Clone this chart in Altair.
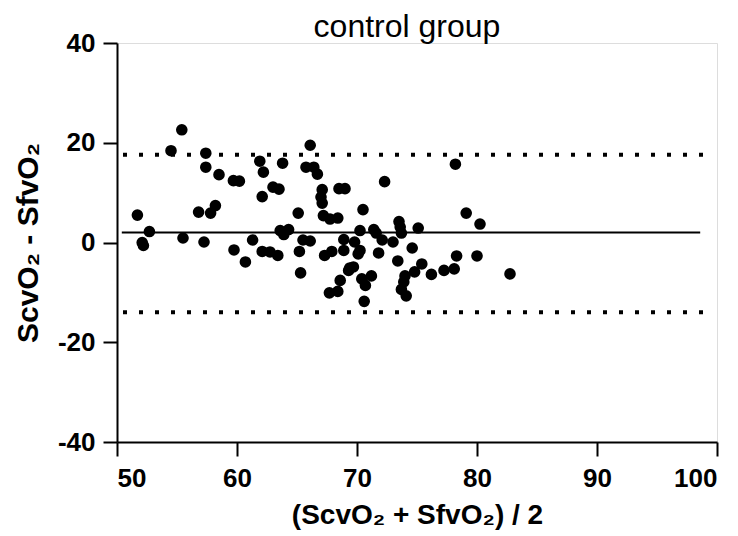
import altair as alt
import pandas as pd

# Bland-Altman data: mean of the two measurements (x) and their difference (y)
mean_vals = [55.4, 54.5, 57.4, 57.4, 58.5, 59.7, 60.2, 51.7, 56.8, 57.8,
             58.2, 52.7, 52.1, 52.2, 55.5, 57.25, 59.75, 66.1, 61.9, 62.2,
             63.8, 65.75, 66.4, 66.7, 63.0, 63.5, 62.1, 67.1, 67.0, 67.1,
             68.5, 69.0, 65.1, 67.2, 67.75, 68.4, 63.6, 63.9, 64.3, 61.3,
             65.5, 66.1, 60.7, 62.1, 62.75, 63.4, 65.2, 67.3, 67.9, 65.3,
             67.7, 68.4, 68.6, 72.3, 70.5, 70.25, 71.4, 71.6, 73.5, 73.6,
             73.7, 75.1, 68.9, 69.8, 72.1, 73.0, 68.9, 70.25, 70.1, 71.8,
             74.6, 73.4, 69.4, 69.7, 69.3, 70.4, 70.7, 71.2, 70.6, 74.0,
             73.9, 73.7, 74.1, 74.8, 75.4, 76.2, 77.25, 78.1, 78.2, 79.1,
             80.25, 78.3, 80.0, 82.75]
diff_vals = [22.6, 18.4, 17.9, 15.1, 13.6, 12.4, 12.3, 5.5, 6.1, 5.9,
             7.4, 2.2, 0.0, -0.6, 0.9, 0.1, -1.5, 19.5, 16.3, 14.1,
             15.9, 15.1, 15.1, 13.7, 11.1, 10.7, 9.2, 10.6, 9.1, 7.9,
             10.8, 10.8, 5.9, 5.4, 4.7, 4.9, 2.4, 1.6, 2.6, 0.5,
             0.5, 0.3, -3.9, -1.8, -1.9, -2.6, -1.8, -2.6, -1.8, -6.1,
             -10.1, -9.8, -7.6, 12.2, 6.6, 2.4, 2.6, 1.9, 4.2, 3.1,
             1.9, 2.9, 0.6, 0.1, 0.5, 0.1, -1.6, -1.6, -2.3, -2.1,
             -1.1, -3.7, -5.1, -4.9, -5.6, -7.3, -8.6, -6.7, -11.8, -6.7,
             -7.9, -9.4, -10.7, -5.9, -4.3, -6.4, -5.6, -5.3, 15.7, 5.9,
             3.7, -2.7, -2.7, -6.3]

# bias and limits of agreement
line_names = ["bias", "upper", "lower"]
line_levels = [2.0, 17.6, -14.0]
line_start = [50.4, 50.5, 50.5]
line_end = [98.6, 99.2, 99.2]

x_ticks = [50, 60, 70, 80, 90, 100]
y_ticks = [-40, -20, 0, 20, 40]

points = pd.DataFrame({"m": mean_vals, "d": diff_vals})
lines = pd.DataFrame({"name": line_names, "y": line_levels,
                      "x1": line_start, "x2": line_end})

FONT = "Liberation Sans"

x_scale = alt.Scale(domain=[50, 100], nice=False, zero=False)
y_scale = alt.Scale(domain=[-40, 40], nice=False, zero=False)

axis_common = dict(
    grid=False, domainColor="black", domainWidth=2, tickColor="black",
    tickWidth=2, tickSize=14, labelFont=FONT, labelFontSize=26,
    labelFontWeight="bold", labelColor="black", titleFont=FONT,
    titleFontSize=28, titleFontWeight="bold", titleColor="black",
    labelExpr="'' + datum.value",
)

x_enc = alt.X("m:Q", scale=x_scale,
              axis=alt.Axis(title="(ScvO₂ + SfvO₂) / 2", values=x_ticks,
                            labelPadding=9, titlePadding=10, **axis_common))
y_enc = alt.Y("d:Q", scale=y_scale,
              axis=alt.Axis(title="ScvO₂ - SfvO₂", values=y_ticks,
                            labelPadding=8, titlePadding=14, titleFontSize=30,
                            **{k: v for k, v in axis_common.items()
                               if k != "titleFontSize"}))

pts = alt.Chart(points).mark_circle(size=135, color="black", opacity=1).encode(
    x=x_enc, y=y_enc)

solid = alt.Chart(lines).transform_filter(alt.datum.name == "bias").mark_rule(
    color="black", strokeWidth=2).encode(
    x=alt.X("x1:Q", scale=x_scale), x2="x2:Q", y=alt.Y("y:Q", scale=y_scale))

dotted = alt.Chart(lines).transform_filter(alt.datum.name != "bias").mark_rule(
    color="black", strokeWidth=4, strokeDash=[4, 12]).encode(
    x=alt.X("x1:Q", scale=x_scale), x2="x2:Q", y=alt.Y("y:Q", scale=y_scale))

chart = alt.layer(solid, dotted, pts).properties(
    width=600, height=399,
    title=alt.TitleParams("control group", font=FONT, fontSize=32,
                          fontWeight="normal", color="black", anchor="middle",
                          offset=-14, dx=-10),
    autosize=alt.AutoSizeParams(type="none"),
    padding={"left": 117, "top": 43, "right": 21, "bottom": 94},
).configure_view(stroke=None).configure(background="white")

chart.save("out.html", embed_options={"renderer": "svg", "actions": False})
